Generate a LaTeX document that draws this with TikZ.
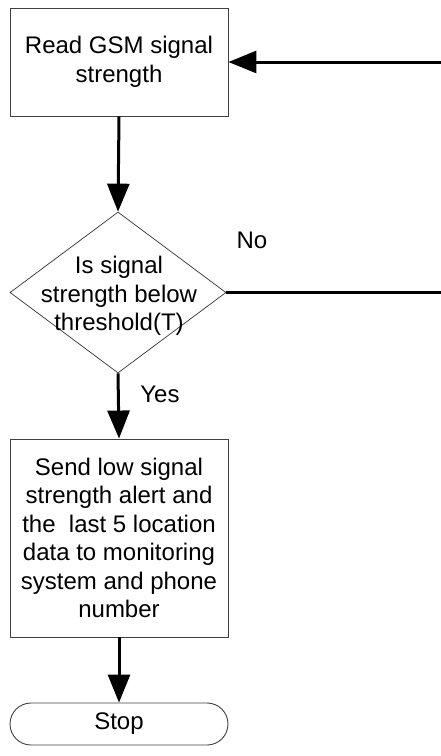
\documentclass[tikz,border=0pt]{standalone}
\usepackage{fontspec}
\setmainfont{Liberation Sans}
\usetikzlibrary{arrows.meta,shapes.geometric}
\begin{document}
\begin{tikzpicture}[x=1pt,y=-1pt,
  every node/.style={font=\fontsize{24}{28.5}\selectfont},
  procbox/.style={draw=black!75,line width=0.9pt,rectangle,inner sep=0pt,align=center},
  decbox/.style={draw=black!80,line width=0.7pt,diamond,inner sep=0pt},
  termbox/.style={draw=black!75,line width=0.9pt,rectangle,rounded corners=21pt,inner sep=0pt},
  flow/.style={line width=3pt,-{Triangle[length=28pt,width=22pt]}},
  plain/.style={line width=3pt}]
\useasboundingbox (0,0) rectangle (441,756);
\node[procbox,minimum width=218pt,minimum height=108pt] (read) at (119,62) {Read GSM signal\\strength};
\node[decbox,minimum width=216pt,minimum height=161pt] (decide) at (118,292.5) {};
\node[align=center,inner sep=0pt] (decidetext) at (119,296) {Is signal\\strength below\\threshold(T)};
\node[procbox,minimum width=218pt,minimum height=198pt] (send) at (119,538) {Send low signal\\strength alert and\\the\ \ last 5 location\\data to monitoring\\system and phone\\number};
\node[termbox,minimum width=218pt,minimum height=42pt] (stop) at (119,724) {Stop};
\node[inner sep=0pt] (no) at (252,240) {No};
\node[inner sep=0pt] (yes) at (160,394) {Yes};
\coordinate (back) at (446,292.5);
\draw[flow] (read.south) -- (decide.north);
\draw[flow] (decide.south) -- (send.north);
\draw[flow] (send.south) -- (stop.north);
\draw[flow] (decide.east) -- (back) |- (read.east);
\end{tikzpicture}
\end{document}
